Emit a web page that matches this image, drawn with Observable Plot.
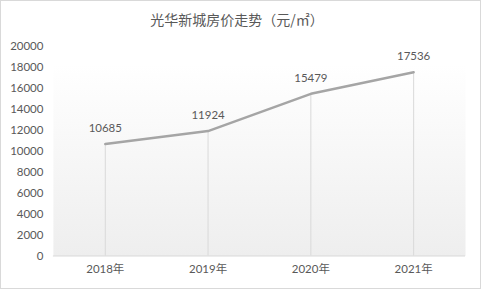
<!DOCTYPE html>
<html><head><meta charset="utf-8">
<script src="https://cdn.jsdelivr.net/npm/d3@7"></script>
<script src="https://cdn.jsdelivr.net/npm/@observablehq/plot@0.6"></script>
<style>
html,body{margin:0;padding:0;background:#fff;}
#wrap{width:481px;height:289px;box-sizing:border-box;border:1px solid #d9d9d9;position:relative;overflow:hidden;font-family:Lato,"Noto Sans CJK SC",sans-serif;}
#title{position:absolute;left:0;top:8px;width:472px;text-align:center;font-size:14px;color:#595959;font-family:"Noto Sans CJK SC",sans-serif;}
#chart{position:absolute;left:-1px;top:31px;}
</style></head>
<body><div id="wrap"><div id="title">光华新城房价走势（元/㎡）</div><div id="chart"></div></div>
<script>
const years = ["2018年","2019年","2020年","2021年"];
const prices = [10685, 11924, 15479, 17536];
const yTicks = [0,2000,4000,6000,8000,10000,12000,14000,16000,18000,20000];

const data = years.map((y,i)=>({year:y, price:prices[i]}));

const plot = Plot.plot({
  width: 481,
  height: 257,
  marginLeft: 53,
  marginRight: 15,
  marginTop: 14,
  marginBottom: 33,
  style: {fontFamily: 'Lato,"Noto Sans CJK SC",sans-serif', fontSize: "11.5px", color: "#595959", background: "transparent"},
  x: {type: "point", domain: years, padding: 0.5, label: null, tickSize: 0, tickPadding: 9},
  y: {domain: [0, 20000], ticks: yTicks, label: null, tickSize: 0, tickPadding: 10, tickFormat: d => String(d)},
  marks: [
    Plot.frame({fill: "url(#bggrad)", stroke: null, insetTop: 18}),
    Plot.ruleX(data, {x: "year", y1: 0, y2: "price", stroke: "#d9d9d9", strokeWidth: 1}),
    Plot.ruleY([0], {stroke: "#d9d9d9", strokeWidth: 1}),
    Plot.line(data, {x: "year", y: "price", stroke: "#a5a5a5", strokeWidth: 2.5}),
    Plot.text(data, {x: "year", y: "price", text: d => String(d.price), dy: -16, fill: "#595959", fontSize: 11.5})
  ]
});
const svg = d3.select(plot);
const defs = svg.insert("defs", ":first-child");
const g = defs.append("linearGradient").attr("id","bggrad").attr("x1",0).attr("y1",0).attr("x2",0).attr("y2",1);
g.append("stop").attr("offset","0%").attr("stop-color","#ffffff");
g.append("stop").attr("offset","100%").attr("stop-color","#eeeeee");
document.getElementById("chart").appendChild(plot);
</script></body></html>
